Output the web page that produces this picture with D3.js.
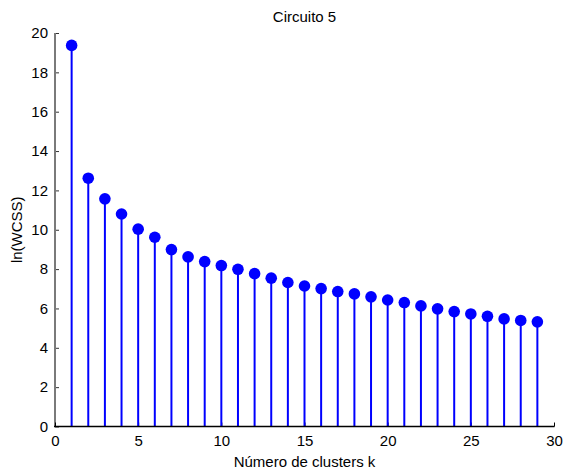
<!DOCTYPE html>
<html>
<head>
<meta charset="utf-8">
<script src="https://cdn.jsdelivr.net/npm/d3@7"></script>
<style>
  html, body { margin: 0; padding: 0; background: #fff; }
  svg { display: block; }
  text { font-family: "Liberation Sans", Arial, Helvetica, sans-serif; fill: #000; }
</style>
</head>
<body>
<svg id="chart" width="563" height="472"></svg>
<script>
// ---- data ----
const clustersK = [1,2,3,4,5,6,7,8,9,10,11,12,13,14,15,16,17,18,19,20,21,22,23,24,25,26,27,28,29];
const lnWCSS = [19.37,12.62,11.57,10.80,10.03,9.62,8.99,8.62,8.38,8.18,7.99,7.77,7.54,7.32,7.14,7.01,6.86,6.74,6.59,6.43,6.30,6.13,5.98,5.84,5.72,5.60,5.47,5.39,5.32];
const xTicks = [0,5,10,15,20,25,30];
const yTicks = [0,2,4,6,8,10,12,14,16,18,20];
const titleText = "Circuito 5";
const xLabelText = "Número de clusters k";
const yLabelText = "ln(WCSS)";

(function () {
// ---- layout ----
const pL = 55, pR = 554, pT = 33, pB = 426.5;
const svg = d3.select("#chart");
const x = d3.scaleLinear().domain([0, 30]).range([pL, pR]);
const y = d3.scaleLinear().domain([0, 20]).range([pB, pT]);
const fs = 15;
const ff = '"Liberation Sans", Arial, sans-serif';

// axes
const yAxis = d3.axisLeft(y).tickValues(yTicks).tickSize(-4).tickPadding(9).tickFormat(d3.format("d"));
const xAxis = d3.axisBottom(x).tickValues(xTicks).tickSize(-4).tickPadding(9).tickFormat(d3.format("d"));

const ya = svg.append("g").attr("transform", `translate(${pL},0)`).call(yAxis);
ya.select(".domain").remove();
ya.selectAll(".tick line").attr("stroke", "#333").attr("stroke-width", 1);
ya.selectAll(".tick text").attr("font-size", fs).style("font-family", ff).attr("fill", "#000").attr("dx", "2");
svg.append("line").attr("x1", pL).attr("x2", pL).attr("y1", pT).attr("y2", pB + 0.5)
  .attr("stroke", "#7a7a7a").attr("stroke-width", 2);

const xa = svg.append("g").attr("transform", `translate(0,${pB})`).call(xAxis);
xa.select(".domain").remove();
xa.selectAll(".tick line").attr("stroke", "#000").attr("stroke-width", 1);
xa.selectAll(".tick text").attr("font-size", fs).style("font-family", ff).attr("fill", "#000");

// stems
svg.append("g").selectAll("line.stem").data(clustersK).enter().append("line")
  .attr("class", "stem")
  .attr("x1", d => x(d)).attr("x2", d => x(d))
  .attr("y1", y(0)).attr("y2", (d, i) => y(lnWCSS[i]))
  .attr("stroke", "#0000ff").attr("stroke-width", 2);

svg.append("line").attr("x1", pL - 1).attr("x2", pR + 0.5).attr("y1", pB).attr("y2", pB)
  .attr("stroke", "#000").attr("stroke-width", 1.6);

// markers
svg.append("g").selectAll("circle").data(clustersK).enter().append("circle")
  .attr("cx", d => x(d)).attr("cy", (d, i) => y(lnWCSS[i]))
  .attr("r", 5.8).attr("fill", "#0000ff");

// title and labels
svg.append("text").attr("x", (pL + pR) / 2).attr("y", 21.5)
  .attr("text-anchor", "middle").attr("font-size", fs).style("font-family", ff).text(titleText);
svg.append("text").attr("x", (pL + pR) / 2).attr("y", 467)
  .attr("text-anchor", "middle").attr("font-size", fs).style("font-family", ff).text(xLabelText);
svg.append("text").attr("transform", `translate(22,${(pT + pB) / 2}) rotate(-90)`)
  .attr("text-anchor", "middle").attr("font-size", fs).style("font-family", ff).text(yLabelText);
})();
</script>
</body>
</html>
